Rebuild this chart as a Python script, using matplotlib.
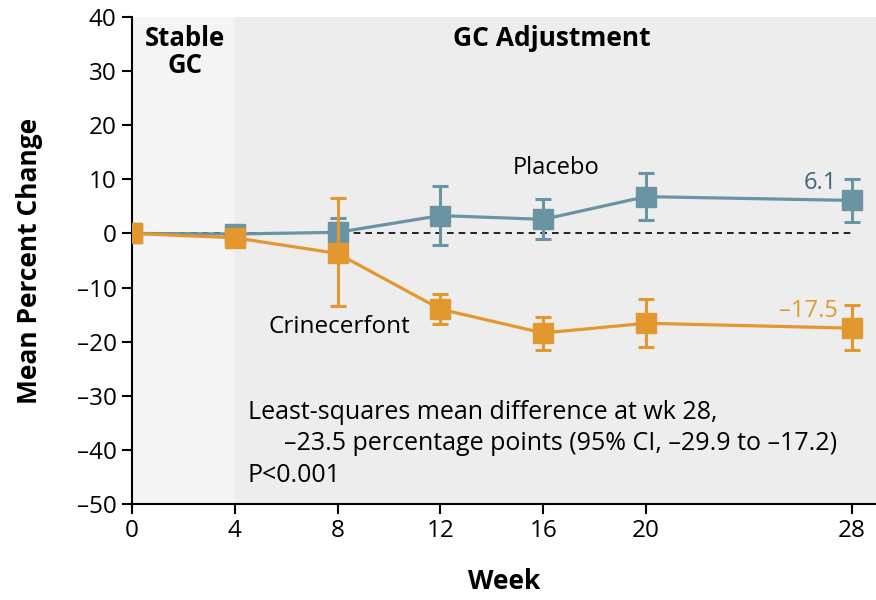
import matplotlib
matplotlib.use("Agg")
import matplotlib.pyplot as plt

plt.rcParams['font.family'] = ['Open Sans', 'DejaVu Sans']

# data
weeks = [0, 4, 8, 12, 16, 20, 28]
placebo = [0.0, -0.1, 0.2, 3.3, 2.6, 6.8, 6.1]
placebo_lo = [0.0, -0.6, -2.0, -2.2, -1.0, 2.4, 2.2]
placebo_hi = [0.0, 0.4, 2.8, 8.8, 6.3, 11.1, 10.0]
crine = [0.0, -0.8, -3.7, -14.0, -18.4, -16.6, -17.5]
crine_lo = [0.0, -1.2, -13.5, -16.8, -21.6, -21.0, -21.6]
crine_hi = [0.0, -0.4, 6.5, -11.2, -15.4, -12.1, -13.3]
yticks = [-50, -40, -30, -20, -10, 0, 10, 20, 30, 40]

blue = '#6a93a3'
orange = '#e3972f'

fig = plt.figure(figsize=(8.76, 6.0), dpi=100)
ax = fig.add_axes([0.1507, 0.16, 0.8493, 0.8117])
ax.set_xlim(0, 28.95)
ax.set_ylim(-50, 40)

# background phases
ax.axvspan(0, 4, color='#f4f4f4', zorder=0)
ax.axvspan(4, 28.95, color='#ededed', zorder=0)
ax.plot([0, 28], [0, 0], color='black', lw=1.2, ls=(0, (4, 3)), zorder=1)

def err(vals, lo, hi):
    return [[v - l for v, l in zip(vals, lo)], [h - v for v, h in zip(vals, hi)]]

ax.errorbar(weeks, placebo, yerr=err(placebo, placebo_lo, placebo_hi),
            color=blue, marker='s', ms=14.5, lw=2.3, elinewidth=2.2,
            capsize=5.5, capthick=2.2, zorder=3)
ax.errorbar(weeks, crine, yerr=err(crine, crine_lo, crine_hi),
            color=orange, marker='s', ms=14.5, lw=2.3, elinewidth=2.2,
            capsize=5.5, capthick=2.2, zorder=4)

# labels in the plot
ax.text(2.05, 38.6, 'Stable\nGC', ha='center', va='top', fontsize=18.5,
        fontweight='bold', linespacing=1.0)
ax.text(16.35, 38.6, 'GC Adjustment', ha='center', va='top', fontsize=19,
        fontweight='bold')
ax.text(14.8, 12.0, 'Placebo', ha='left', va='center', fontsize=17)
ax.text(5.3, -17.2, 'Crinecerfont', ha='left', va='center', fontsize=17.5)
ax.text(27.45, 9.3, '6.1', ha='right', va='center', fontsize=17, color='#3f6577')
ax.text(27.45, -14.4, '\u201317.5', ha='right', va='center', fontsize=17, color=orange)
ax.text(4.5, -33.0, 'Least-squares mean difference at wk 28,', ha='left',
        va='center', fontsize=18)
ax.text(5.9, -38.8, '\u201323.5 percentage points (95% CI, \u201329.9 to \u201317.2)',
        ha='left', va='center', fontsize=18)
ax.text(4.5, -44.8, 'P<0.001', ha='left', va='center', fontsize=18)

# axes styling
ax.set_xticks(weeks)
ax.set_xticklabels([str(w) for w in weeks])
ax.set_yticks(yticks)
ax.set_yticklabels([str(t).replace('-', '\u2013') for t in yticks])
for s in ['top', 'right']:
    ax.spines[s].set_visible(False)
for s in ['left', 'bottom']:
    ax.spines[s].set_linewidth(1.5)
ax.tick_params(axis='both', labelsize=17.5, length=7, width=1.5, pad=4)
ax.set_xlabel('Week', fontsize=19, fontweight='bold', labelpad=18)
ax.set_ylabel('Mean Percent Change', fontsize=19, fontweight='bold', labelpad=24)

fig.savefig('out.png', dpi=100)
